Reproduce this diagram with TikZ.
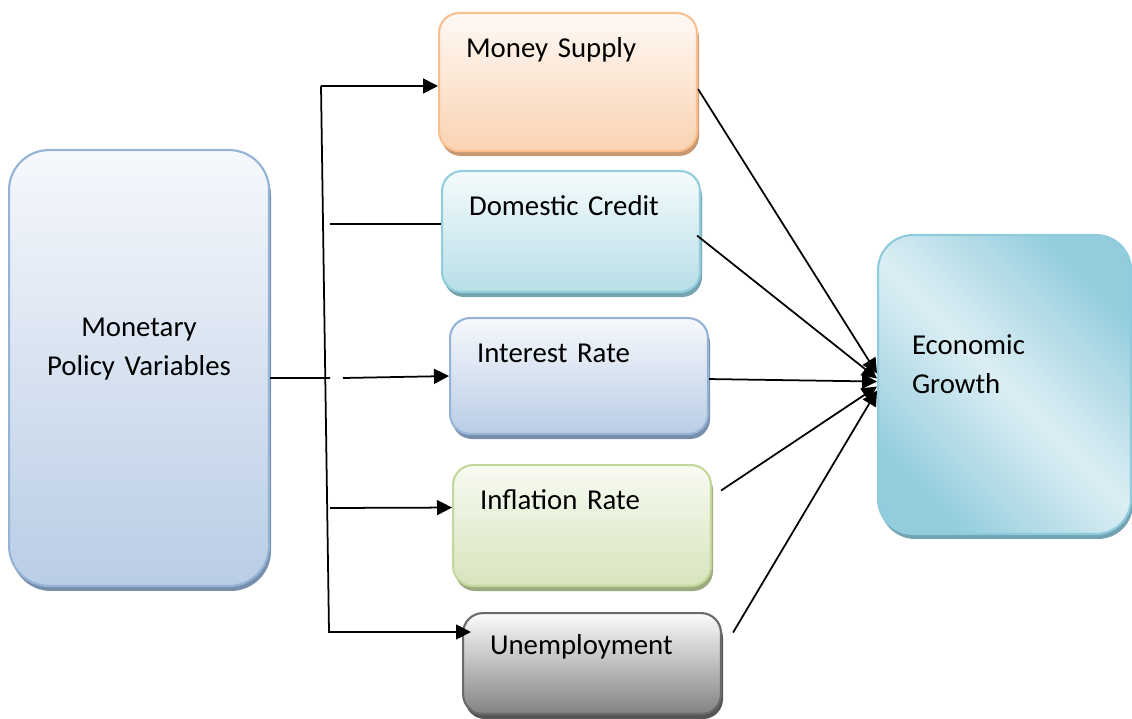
\documentclass[tikz,border=0pt]{standalone}
\usepackage{fontspec}
\setmainfont{Carlito}
\usepackage{tikz}
\usetikzlibrary{calc}
\usetikzlibrary{shadows}
\usetikzlibrary{arrows.meta}

\definecolor{mstop}{HTML}{FEF9F5}
\definecolor{msbot}{HTML}{FAD3B2}
\definecolor{msline}{HTML}{F9BF8E}
\definecolor{dctop}{HTML}{F5FBFC}
\definecolor{dcbot}{HTML}{B7DEE8}
\definecolor{dcline}{HTML}{92CDDC}
\definecolor{bltop}{HTML}{F6F8FC}
\definecolor{blbot}{HTML}{B9CDE5}
\definecolor{blline}{HTML}{95B3D7}
\definecolor{grtop}{HTML}{F8FBF2}
\definecolor{grbot}{HTML}{D7E4BD}
\definecolor{grline}{HTML}{C3D69B}
\definecolor{gytop}{HTML}{FBFBFB}
\definecolor{gybot}{HTML}{828282}
\definecolor{gyline}{HTML}{6A6A6A}
\definecolor{egdark}{HTML}{93CDDD}
\definecolor{eglight}{HTML}{DCEEF4}
\definecolor{egline}{HTML}{8ECCDD}

\pgfdeclarehorizontalshading{egshade}{100bp}{color(0bp)=(egdark); color(25bp)=(egdark); color(50bp)=(eglight); color(75bp)=(egdark); color(100bp)=(egdark)}

\begin{document}
\begin{tikzpicture}[x=0.02cm, y=-0.02cm,
    font=\fontsize{16.4}{22.7}\selectfont,
    line width=1pt,
    >={Triangle[length=0.3cm, width=0.3cm]},
    box/.style n args={3}{draw=#3, top color=#1, bottom color=#2,
      line width=1.2pt, rounded corners=0.4cm,
      drop shadow={shadow xshift=0.04cm, shadow yshift=-0.1cm, fill=#3!80!black, opacity=1},
      anchor=north west, inner xsep=0.54cm, inner ysep=0pt,
      text width=4.08cm, align=left, text height=0.88cm}
    ]
    \useasboundingbox (0,0) rectangle (1132,719);

    \node[box={mstop}{msbot}{msline}, text depth=1.88cm] (ms) at (438,12) {Money Supply};
    \node[box={dctop}{dcbot}{dcline}, text depth=1.54cm] (dc) at (441,170) {Domestic Credit};
    \node[box={bltop}{blbot}{blline}, text depth=1.44cm] (ir) at (449,317) {Interest Rate};
    \node[box={grtop}{grbot}{grline}, text depth=1.54cm] (ifl) at (452,464) {Inflation Rate};
    \node[box={gytop}{gybot}{gyline}, text height=0.82cm, text depth=1.2cm] (un) at (462,612) {Unemployment};
    \node[box={bltop}{blbot}{blline}, rounded corners=0.8cm, inner xsep=0.2cm,
      text width=4.8cm, align=center, text height=3.72cm, text depth=5cm] (mpv) at (8,149)
      {Monetary\\Policy Variables};
    \node[box={egdark}{egdark}{egline}, shading=egshade, shading angle=45, rounded corners=0.7cm,
      inner xsep=0.68cm, text width=3.7cm, text height=2.38cm, text depth=3.6cm] (eg) at (877,234)
      {Economic\\Growth};

    \coordinate (ttop) at (321,86);
    \coordinate (tbot) at (329,632);
    \coordinate (dcin) at (330,224);
    \coordinate (irgap) at (330,378);
    \coordinate (irin) at (343,378);
    \coordinate (iflin) at (330,508);

    \draw[->] (ttop) -- (ms.west |- ttop);
    \draw[->] (ttop) -- (tbot) -- ($(un.west |- tbot)+(9,0)$);
    \draw (dcin) -- (dc.west |- dcin);
    \draw ($(mpv.east)+(0,10)$) -- (irgap);
    \draw[->] (irin) -- (ir.west);
    \draw[->] (iflin) -- ($(ifl.west)+(0,-18)$);

    \draw[->] ($(ms.east)+(0,7)$) -- ($(eg.west)+(0,-11)$);
    \draw[->] ($(dc.east)+(-4,4)$) -- ($(eg.west)+(0,-6)$);
    \draw[->] ($(ir.east)+(0,3)$) -- ($(eg.west)+(0,-3)$);
    \draw[->] ($(ifl.east)+(9,-35)$) -- ($(eg.west)+(0,2)$);
    \draw[->] ($(un.east)+(11,-31)$) -- ($(eg.west)+(0,6)$);
  \end{tikzpicture}
\end{document}
